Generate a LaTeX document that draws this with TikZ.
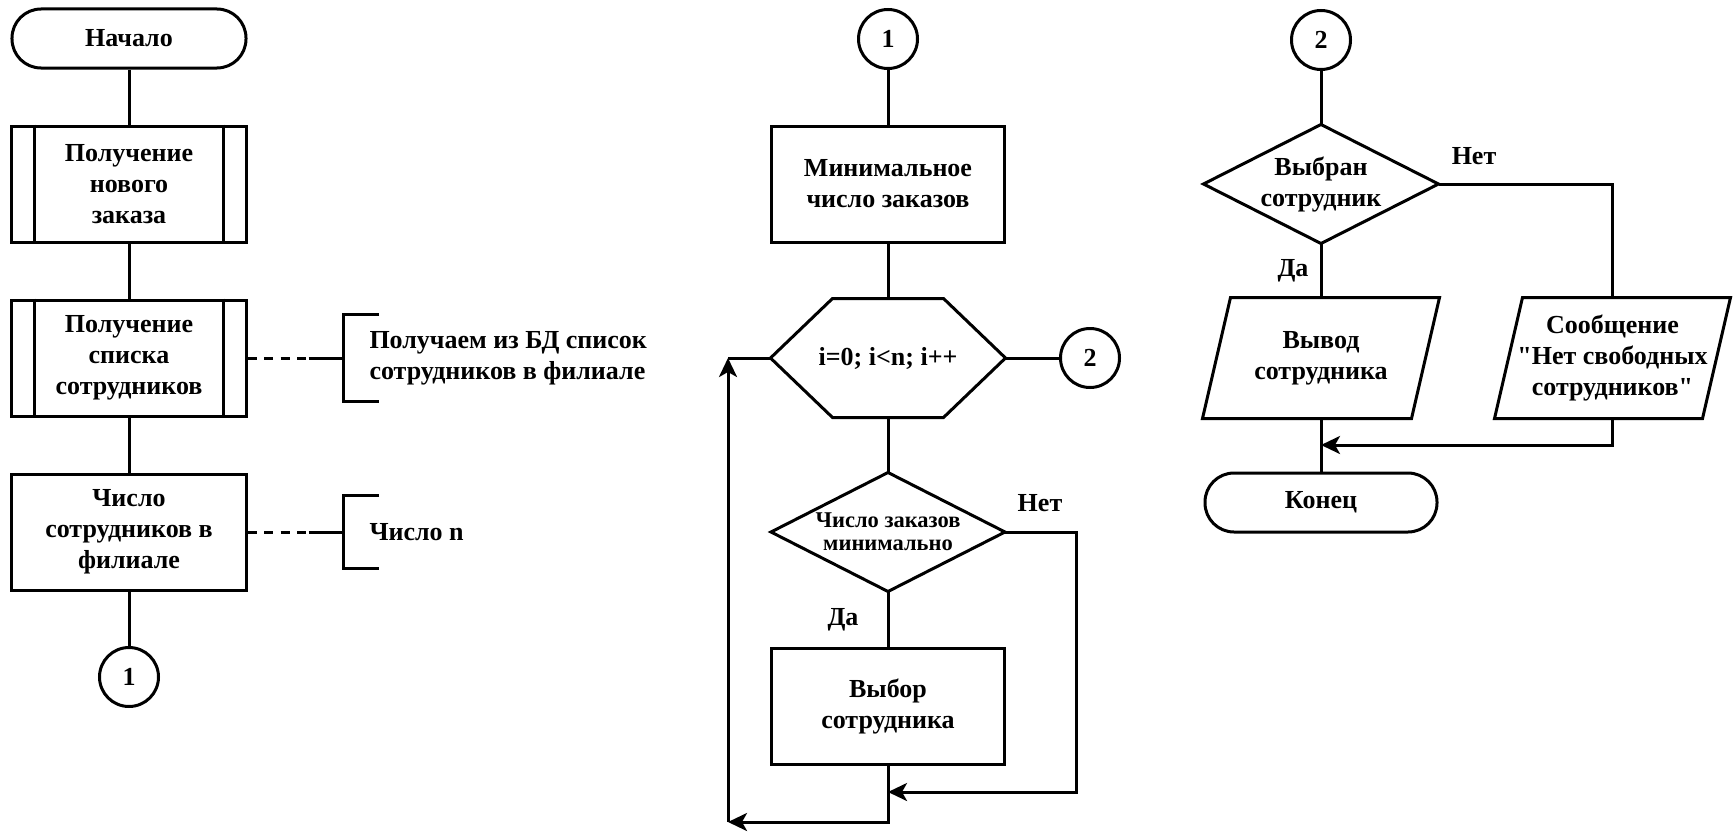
\documentclass[tikz,border=0pt]{standalone}
\usepackage{fontspec}
\setmainfont{Liberation Serif}
\usetikzlibrary{arrows.meta}

\tikzset{
    every node/.style={font=\fontsize{26bp}{31bp}\selectfont\bfseries, align=center, inner sep=0pt},
    blk/.style={minimum width=234bp, minimum height=116bp},
    procbox/.style={blk, draw, rectangle},
    termbox/.style={draw, rectangle, rounded corners=29bp, minimum width=234bp, minimum height=59bp},
    conn/.style={draw, circle, minimum size=59bp},
    smalltext/.style={font=\fontsize{22.5bp}{23bp}\selectfont\bfseries},
    notetext/.style={align=left, anchor=west},
    dashline/.style={dash pattern=on 9bp off 7.5bp}
}

\begin{document}
\begin{tikzpicture}[x=1bp, y=-1bp, line width=3bp, >={Stealth[length=19bp,width=18bp,inset=5bp]}]
        \useasboundingbox (0,0) rectangle (1736,835);
        \node (start) at (129,38.5) [termbox]{Начало};
        \node (neworder) at (129,184) [procbox]{Получение\\нового\\заказа};
        \node (stafflist) at (129,358) [procbox]{Получение\\списка\\сотрудников};
        \node (staffnum) at (129,532) [procbox]{Число\\сотрудников в\\филиале};
        \node (conA) at (129,677) [conn]{1};
        \draw ([xshift=24bp]neworder.north west)--([xshift=24bp]neworder.south west);
        \draw ([xshift=-24bp]neworder.north east)--([xshift=-24bp]neworder.south east);
        \draw ([xshift=24bp]stafflist.north west)--([xshift=24bp]stafflist.south west);
        \draw ([xshift=-24bp]stafflist.north east)--([xshift=-24bp]stafflist.south east);
        \draw (start)--(neworder);
        \draw (neworder)--(stafflist);
        \draw (stafflist)--(staffnum);
        \draw (staffnum)--(conA);

        \node (noteA) at (368,358) [notetext]{Получаем из БД список\\сотрудников в филиале};
        \coordinate (brA) at (343,358);
        \draw[dashline] (stafflist.east)--++(61,0) coordinate (brAmid);
        \draw (brAmid)--(brA);
        \draw (379,314)--(343,314)--(343,401)--(379,401);
        \node (noteB) at (368,532) [notetext]{Число n};
        \coordinate (brB) at (343,532);
        \draw[dashline] (staffnum.east)--++(61,0) coordinate (brBmid);
        \draw (brBmid)--(brB);
        \draw (379,495)--(343,495)--(343,568)--(379,568);

        \node (conB) at (888,39) [conn]{1};
        \node (minord) at (888,184) [procbox, minimum width=233bp]{Минимальное\\число заказов};
        \node (loophex) at (888,358) [blk, minimum width=232bp]{i=0; i<n; i++};
        \draw (loophex.west)--([xshift=62bp]loophex.north west)--([xshift=-62bp]loophex.north east)--(loophex.east)--([xshift=-62bp]loophex.south east)--([xshift=62bp]loophex.south west)--cycle;
        \node (conC) at (1090,358) [conn]{2};
        \node (minchk) at (888,532) [blk, minimum width=231bp, smalltext]{Число заказов\\минимально};
        \draw (minchk.north)--(minchk.east)--(minchk.south)--(minchk.west)--cycle;
        \node (noA) at (1040,503) {Нет};
        \node (yesA) at (843,620) {Да};
        \node (pick) at (888,706) [procbox, minimum width=233bp]{Выбор\\сотрудника};
        \coordinate (backR) at (1076,792);
        \coordinate (joinA) at (888,792);
        \coordinate (loopBL) at (728,822);
        \coordinate (loopTL) at (728,358);
        \draw (conB)--(minord);
        \draw (minord)--(loophex);
        \draw (loophex)--(conC);
        \draw (loophex)--(minchk);
        \draw (minchk)--(pick);
        \draw[->] (minchk.east)-|(backR)--(joinA);
        \draw[->] (pick.south)|-(loopBL);
        \draw[->] (loopBL)--(loopTL);
        \draw (loopTL)--(loophex.west);

        \node (conD) at (1321,40) [conn]{2};
        \node (pickchk) at (1321,184) [blk, minimum width=232bp]{Выбран\\сотрудник};
        \draw (pickchk.north)--(pickchk.east)--(pickchk.south)--(pickchk.west)--cycle;
        \node (noB) at (1474,156) {Нет};
        \node (yesB) at (1293,271) {Да};
        \node (outpick) at (1321,358) [blk, minimum height=118bp]{Вывод\\сотрудника};
        \draw ([xshift=28bp]outpick.north west)--(outpick.north east)--([xshift=-28bp]outpick.south east)--(outpick.south west)--cycle;
        \node (nofree) at (1612.5,358) [blk, minimum width=233bp, minimum height=118bp]{Сообщение\\\textquotedbl Нет свободных\\сотрудников\textquotedbl};
        \draw ([xshift=28bp]nofree.north west)--(nofree.north east)--([xshift=-28bp]nofree.south east)--(nofree.south west)--cycle;
        \node (finish) at (1321,502.5) [termbox, minimum width=232bp]{Конец};
        \coordinate (joinB) at (1321,445);
        \draw (conD)--(pickchk);
        \draw (pickchk.east)-|(nofree.north);
        \draw (pickchk)--(outpick);
        \draw (outpick)--(finish);
        \draw[->] (nofree.south)|-(joinB);
    \end{tikzpicture}
\end{document}
